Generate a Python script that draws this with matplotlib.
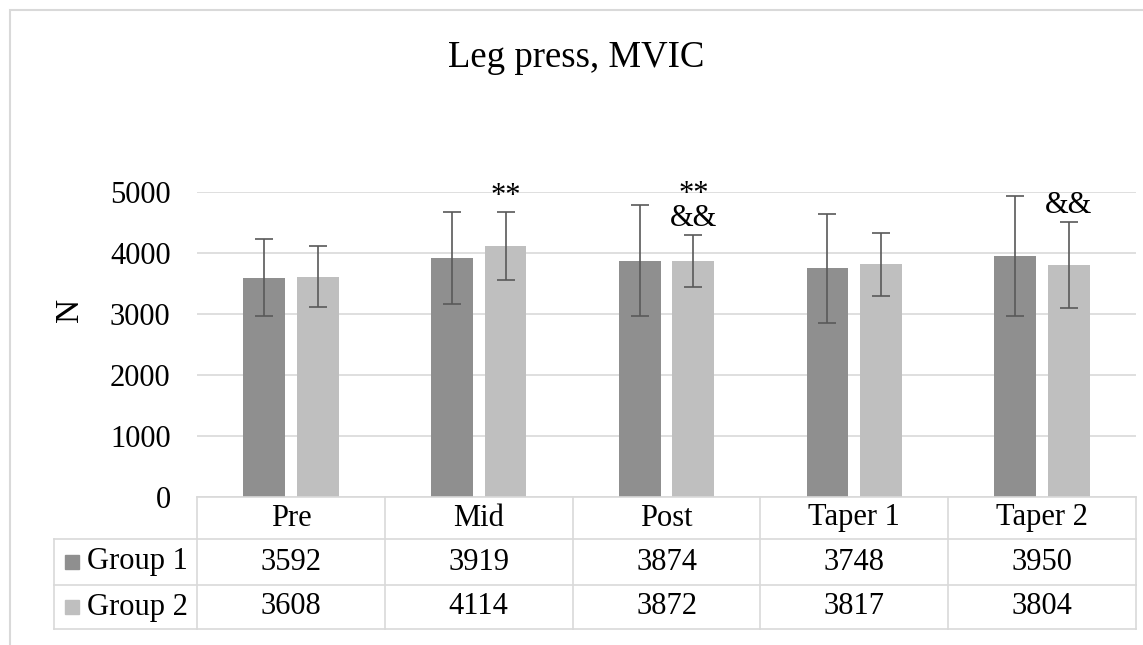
import matplotlib.pyplot as plt
import matplotlib.transforms as mtransforms
from matplotlib.lines import Line2D
from matplotlib.patches import Rectangle
import numpy as np

plt.rcParams["font.family"] = ["Liberation Serif", "DejaVu Serif"]

categories = ["Pre", "Mid", "Post", "Taper 1", "Taper 2"]
groups = ["Group 1", "Group 2"]
group1_mean = [3592, 3919, 3874, 3748, 3950]
group2_mean = [3608, 4114, 3872, 3817, 3804]
group1_sd = [630, 750, 910, 890, 990]
group2_sd = [500, 550, 430, 515, 710]
group2_marks = ["", "**", "**\n&&", "", "&&"]

colors = ["#8f8f8f", "#bfbfbf"]
line_grey = "#d9d9d9"
err_grey = "#595959"
fs = 22

W, H = 1143, 645
fig = plt.figure(figsize=(W / 100, H / 100), dpi=100)

# outer chart border (cropped at right and bottom)
fig.add_artist(Rectangle((10 / W, -0.1), 1.2, 1 - 10 / H + 0.1, transform=fig.transFigure,
                         fill=False, edgecolor=line_grey, linewidth=1.5))

left, right, top, bottom = 197, 1136, 192, 497
ax = fig.add_axes([left / W, 1 - bottom / H, (right - left) / W, (bottom - top) / H])

x = np.arange(len(categories))
width = 0.223
offset = 0.143
means = [group1_mean, group2_mean]
sds = [group1_sd, group2_sd]
for k in range(2):
    ax.bar(x + (2 * k - 1) * offset, means[k], width, color=colors[k], zorder=2)
    ax.errorbar(x + (2 * k - 1) * offset, means[k], yerr=sds[k], fmt="none",
                ecolor=err_grey, elinewidth=1.2, capsize=6.5, capthick=1.2, zorder=3)

for i, mark in enumerate(group2_marks):
    if mark:
        ax.annotate(mark, (x[i] + offset, group2_mean[i] + group2_sd[i]),
                    xytext=(0, 1), textcoords="offset points", ha="center", va="bottom",
                    fontsize=22, linespacing=0.8, annotation_clip=False)

ax.set_xlim(-0.5, len(categories) - 0.5)
ax.set_ylim(0, 5000)
ax.set_yticks(range(0, 5001, 1000))
ax.tick_params(axis="y", length=0, pad=19, labelsize=fs)
ax.set_xticks([])
ax.grid(axis="y", color=line_grey, linewidth=1.2, zorder=0)
for s in ax.spines.values():
    s.set_visible(False)

fig.text(70 / W, 1 - 310 / H, "N", rotation=90, fontsize=24, ha="center", va="center")
fig.text(576 / W, 1 - 58 / H, "Leg press, MVIC", fontsize=26.5, ha="center", va="center")

# data table below the axis
tr = mtransforms.blended_transform_factory(ax.transData, ax.transAxes)
px = bottom - top
rows_y = [0, -42 / px, -88 / px, -132 / px]
label_left = -0.5 - (left - 54) / 188
xr = len(categories) - 0.5
lk = dict(color=line_grey, linewidth=1.2, transform=tr, clip_on=False)
ax.add_line(Line2D([-0.5, xr], [rows_y[0]] * 2, **lk))
for yy in rows_y[1:]:
    ax.add_line(Line2D([label_left, xr], [yy] * 2, **lk))
for xv in np.arange(-0.5, xr + 0.01, 1.0):
    ax.add_line(Line2D([xv, xv], [rows_y[0], rows_y[3]], **lk))
ax.add_line(Line2D([label_left, label_left], [rows_y[1], rows_y[3]], **lk))

for i, c in enumerate(categories):
    ax.text(x[i], (rows_y[0] + rows_y[1]) / 2, c, transform=tr, ha="center", va="center", fontsize=fs)
    for k in range(2):
        ax.text(x[i], (rows_y[k + 1] + rows_y[k + 2]) / 2, str(means[k][i]), transform=tr,
                ha="center", va="center", fontsize=fs)

sq = 14 / 188
for k, g in enumerate(groups):
    yc = (rows_y[k + 1] + rows_y[k + 2]) / 2
    sx = label_left + 11 / 188
    ax.add_patch(Rectangle((sx, yc - 7 / px), sq, 14 / px, transform=tr, color=colors[k], clip_on=False))
    ax.text(label_left + 33 / 188, yc, g, transform=tr, ha="left", va="center", fontsize=fs)

fig.savefig("out.png", dpi=100)
